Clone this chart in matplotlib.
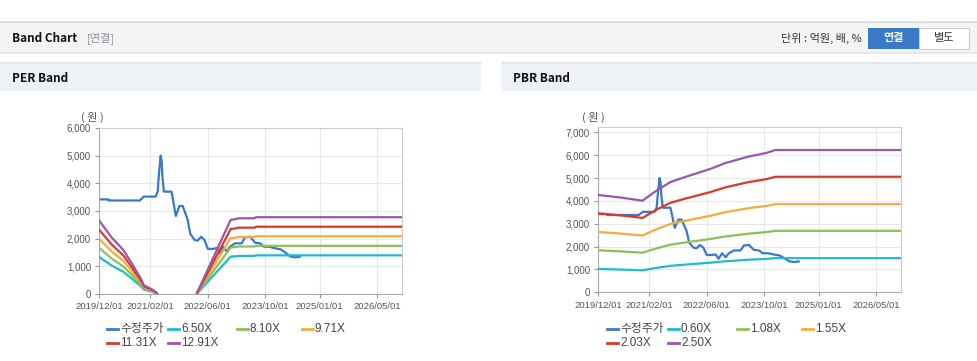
import matplotlib
matplotlib.use('Agg')
import matplotlib.pyplot as plt
import matplotlib.dates as mdates
from matplotlib.patches import Rectangle
from matplotlib.lines import Line2D
from matplotlib.ticker import FuncFormatter
import numpy as np
import pandas as pd

# ---------------- data ----------------
price_dates = ['2019-12-01', '2020-02-15', '2020-02-18', '2020-11-06', '2020-12-10', '2021-03-19',
               '2021-04-06', '2021-04-18', '2021-05-01', '2021-05-10', '2021-05-15', '2021-05-28',
               '2021-08-01', '2021-09-06', '2021-10-06', '2021-11-03', '2021-12-15', '2022-01-06',
               '2022-02-12', '2022-03-10', '2022-04-06', '2022-05-06', '2022-06-03', '2022-07-15',
               '2022-08-15', '2022-09-12', '2022-10-10', '2022-11-10', '2022-12-06', '2023-01-18',
               '2023-03-15', '2023-04-12', '2023-05-25', '2023-07-06', '2023-08-18', '2023-09-18',
               '2023-11-01', '2023-12-25', '2024-02-06', '2024-03-18', '2024-05-01', '2024-06-12',
               '2024-07-18']
price_values = [3420, 3420, 3380, 3380, 3520, 3520,
                3700, 4400, 5000, 4800, 4300, 3700,
                3700, 2820, 3180, 3180, 2680, 2170,
                1950, 1930, 2070, 1950, 1630, 1630,
                1660, 1470, 1710, 1530, 1710, 1830,
                1830, 2050, 2070, 1855, 1830, 1710,
                1710, 1650, 1615, 1494, 1350, 1325,
                1350]

eps_dates = ['2019-12-01', '2020-03-15', '2020-06-21', '2020-09-01', '2020-11-12', '2020-12-10',
             '2021-02-21', '2021-03-19', '2021-04-04', '2021-04-05', '2022-03-03', '2022-03-04',
             '2022-12-13', '2023-01-15', '2023-02-15', '2023-07-01', '2023-07-15', '2026-11-28']
eps_values = [205, 158, 123, 85, 45, 25,
              12, 6, 0, None, None, 3,
              208, 209, 212, 212, 215, 215]

bps_dates = ['2019-12-01', '2020-06-01', '2020-12-07', '2021-04-13', '2021-08-01', '2021-12-10',
             '2022-07-10', '2022-11-01', '2023-05-19', '2023-10-22', '2024-01-03', '2026-11-28']
bps_values = [1703, 1660, 1603, 1791, 1930, 2023,
              2164, 2258, 2374, 2440, 2490, 2490]

per_multiples = [6.50, 8.10, 9.71, 11.31, 12.91]
pbr_multiples = [0.60, 1.08, 1.55, 2.03, 2.50]
per_labels = ['6.50X', '8.10X', '9.71X', '11.31X', '12.91X']
pbr_labels = ['0.60X', '1.08X', '1.55X', '2.03X', '2.50X']
price_label = '수정주가'

tick_dates = ['2019-12-01', '2021-02-01', '2022-06-01', '2023-10-01', '2025-01-01', '2026-05-01']
tick_labels = ['2019/12/01', '2021/02/01', '2022/06/01', '2023/10/01', '2025/01/01', '2026/05/01']

per_yticks = [0, 1000, 2000, 3000, 4000, 5000, 6000]
pbr_yticks = [0, 1000, 2000, 3000, 4000, 5000, 6000, 7000]

# ---------------- styling ----------------
price_color = '#3b78cc'
band_colors = ['#1fbccb', '#8dc152', '#f5ac3d', '#d9392b', '#9a55ad']

W, H = 978, 361
fig = plt.figure(figsize=(W / 100, H / 100), dpi=100)
fig.patch.set_facecolor('white')

KR = ['Noto Sans CJK KR', 'DejaVu Sans']
LAT = ['Liberation Sans', 'Noto Sans CJK KR', 'DejaVu Sans']


def fx(x):
    return x / W


def fy(y):
    return 1 - y / H


def rect(x0, y0, x1, y1, fc, ec='none', lw=0, z=0):
    fig.add_artist(Rectangle((fx(x0), fy(y1)), (x1 - x0) / W, (y1 - y0) / H,
                             transform=fig.transFigure, facecolor=fc,
                             edgecolor=ec, linewidth=lw, zorder=z))


def text(x, y, s, **kw):
    fig.text(fx(x), fy(y), s, transform=fig.transFigure, **kw)


# header
rect(0, 21, W, 53, '#f4f4f4')
rect(0, 21, W, 23, '#dedede')
rect(0, 52, W, 54, '#e6e6e6')
text(12, 38, 'Band Chart', family=KR, fontsize=8.5, fontweight='bold', color='#111111',
     va='center', ha='left')
text(87, 38, '[연결]', family=KR, fontsize=8, color='#8a909a', va='center', ha='left')
text(862, 38, '단위 : 억원, 배, %', family=KR, fontsize=8, color='#333333', va='center', ha='right')
rect(868, 28, 919, 49, '#3a79c6', z=1)
text(893.5, 38, '연결', family=KR, fontsize=8, fontweight='bold', color='white',
     va='center', ha='center', zorder=2)
rect(919, 28, 969, 49, 'white', ec='#cccccc', lw=0.8, z=1)
text(944, 38, '별도', family=KR, fontsize=8, color='#333333', va='center', ha='center', zorder=2)

# panel title bars
for x0, x1, title in [(0, 481, 'PER Band'), (501, W, 'PBR Band')]:
    rect(x0, 62, x1, 91, '#eef1f5')
    rect(x0, 62, x1, 64, '#e3e7ec')
    text(x0 + 12, 78, title, family=KR, fontsize=8.5, fontweight='bold', color='#111111',
         va='center', ha='left')

price_x = pd.to_datetime(price_dates)
ticks_x = pd.to_datetime(tick_dates)
xmin = pd.Timestamp('2019-12-01')
xmax = pd.Timestamp('2026-11-28')


def style_axes(ax, yticks, ytop):
    ax.set_xlim(xmin, xmax)
    ax.set_ylim(0, ytop)
    ax.set_xticks(ticks_x)
    ax.set_xticklabels(tick_labels)
    ax.set_yticks(yticks)
    ax.yaxis.set_major_formatter(FuncFormatter(lambda v, p: f'{int(v):,}'))
    ax.grid(True, color='#e8e8e8', linewidth=0.8)
    ax.set_axisbelow(True)
    for s in ax.spines.values():
        s.set_color('#cccccc')
        s.set_linewidth(0.8)
    ax.spines['left'].set_color('#aaaaaa')
    ax.spines['bottom'].set_color('#aaaaaa')
    ax.tick_params(axis='both', length=3, color='#999999', labelcolor='#555555', width=0.8)
    ax.tick_params(axis='x', pad=3)
    ax.tick_params(axis='y', pad=3)
    for lab in ax.get_xticklabels():
        lab.set_family(LAT)
        lab.set_fontsize(6.8)
    for lab in ax.get_yticklabels():
        lab.set_family(LAT)
        lab.set_fontsize(7)


def draw_panel(rect_px, base_dates, base_values, multiples, labels, yticks, ytop, unit_pos, leg_x):
    x0, y0, x1, y1 = rect_px
    ax = fig.add_axes([fx(x0), fy(y1), (x1 - x0) / W, (y1 - y0) / H])
    ax.plot(price_x, price_values, color=price_color, linewidth=1.6, zorder=2,
            solid_joinstyle='round')
    bx = pd.to_datetime(base_dates)
    bv = np.array([np.nan if v is None else v for v in base_values], dtype=float)
    for m, c in zip(multiples, band_colors):
        ax.plot(bx, bv * m, color=c, linewidth=1.6, zorder=3, solid_joinstyle='round')
    style_axes(ax, yticks, ytop)
    text(unit_pos[0], unit_pos[1], '( 원 )', family=KR, fontsize=8, color='#555555',
         va='center', ha='center')
    # legend
    names = [price_label] + labels
    cols = [price_color] + band_colors
    xs = [leg_x[0], leg_x[1], leg_x[2], leg_x[3], leg_x[0], leg_x[1]]
    ys = [329, 329, 329, 329, 343, 343]
    for n, c, lx, ly in zip(names, cols, xs, ys):
        fig.add_artist(Line2D([fx(lx), fx(lx + 11)], [fy(ly), fy(ly)], transform=fig.transFigure,
                              color=c, linewidth=2))
        text(lx + 13, ly, n, family=LAT, fontsize=8.5, color='#444444', va='center', ha='left')
    return ax


draw_panel((99.3, 128, 402.3, 294), eps_dates, eps_values, per_multiples, per_labels,
           per_yticks, 6000, (92, 117), [107, 168, 237, 302])
draw_panel((598.3, 127, 901, 292.3), bps_dates, bps_values, pbr_multiples, pbr_labels,
           pbr_yticks, 7232, (593, 117), [607, 668, 737, 802])

fig.savefig('out.png', dpi=100)
